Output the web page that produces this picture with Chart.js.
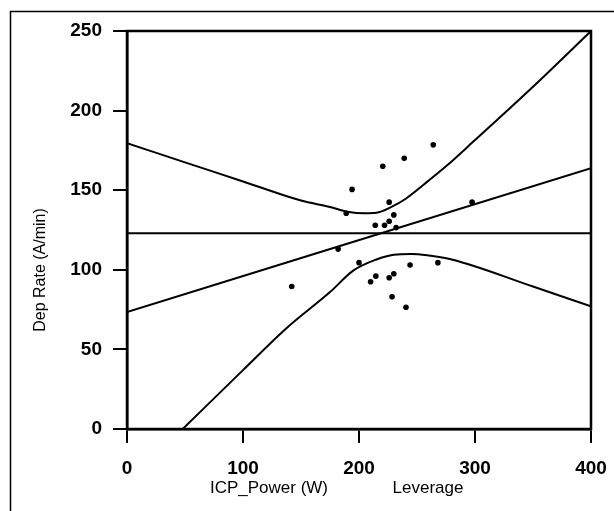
<!DOCTYPE html>
<html>
<head>
<meta charset="utf-8">
<script src="https://cdn.jsdelivr.net/npm/chart.js@4/dist/chart.umd.min.js"></script>
<style>
  html, body { margin: 0; padding: 0; background: #fff; }
  #wrap { width: 614px; height: 511px; position: relative; }
</style>
</head>
<body>
<div id="wrap"><canvas id="c" width="614" height="511"></canvas></div>
<script>
const powerX  = [264, 239, 220.5, 194, 226, 297.5, 189, 230, 214, 222, 226, 232, 182, 200, 244, 268, 214.5, 230, 226, 210, 228.5, 240.5, 142];
const depRate = [178.5, 170, 165, 150.5, 142.5, 142.5, 135.5, 134.5, 128, 128, 130.5, 126.5, 113, 104.5, 103, 104.5, 96, 97.5, 95, 92.5, 83, 76.5, 89.5];

// Fitted line
const fitX = [0, 400];
const fitY = [73.5, 163.8];

// Horizontal mean line
const meanX = [0, 400];
const meanY = [123, 123];

// Upper confidence curve
const upperX = [0, 50, 100, 150, 175, 190, 205, 215, 228, 240, 260, 275, 300, 350, 400];
const upperY = [179.5, 167.5, 155.5, 143.5, 139.5, 136.5, 135.5, 135.8, 139.5, 144.5, 156, 165, 181.5, 215, 250];

// Lower confidence curve
const lowerX = [48, 100, 137, 175, 195, 215, 230, 245, 260, 280, 350, 400];
const lowerY = [0, 37, 63, 86, 99.5, 106.5, 109.5, 110, 109, 106.5, 89.5, 77];

// Axis ticks
const xTicks = [0, 100, 200, 300, 400];
const yTicks = [0, 50, 100, 150, 200, 250];

const xTitle = "ICP_Power (W)";
const xTitle2 = "Leverage";
const yTitle = "Dep Rate (A/min)";

function pts(xs, ys) { return xs.map((x, i) => ({ x: x, y: ys[i] })); }

const lineDs = (xs, ys) => ({
  data: pts(xs, ys), showLine: true, borderColor: '#000', borderWidth: 2,
  pointRadius: 0, fill: false, tension: 0.25, cubicInterpolationMode: 'monotone'
});

const framePlugin = {
  id: 'frame',
  beforeDraw(chart) {
    const ctx = chart.ctx;
    ctx.save();
    ctx.fillStyle = '#fff';
    ctx.fillRect(0, 0, chart.width, chart.height);
    ctx.strokeStyle = '#000';
    ctx.lineWidth = 1.5;
    ctx.beginPath();
    ctx.moveTo(10.5, 511);
    ctx.lineTo(10.5, 11.5);
    ctx.lineTo(614, 11.5);
    ctx.stroke();
    ctx.restore();
  },
  afterDraw(chart) {
    const ctx = chart.ctx;
    const a = chart.chartArea;
    ctx.save();
    ctx.strokeStyle = '#000';
    ctx.lineWidth = 2.5;
    ctx.strokeRect(a.left, a.top, a.right - a.left, a.bottom - a.top);
    ctx.fillStyle = '#000';
    // axis titles
    ctx.font = '17px "Liberation Sans", Arial, sans-serif';
    ctx.textBaseline = 'middle';
    ctx.textAlign = 'center';
    ctx.fillText(xTitle, 269, 488);
    ctx.fillText(xTitle2, 428, 488);
    ctx.font = '16px "Liberation Sans", Arial, sans-serif';
    ctx.translate(41, 270);
    ctx.rotate(-Math.PI / 2);
    ctx.fillText(yTitle, 0, 0);
    ctx.restore();
  }
};

new Chart(document.getElementById('c'), {
  type: 'scatter',
  data: {
    datasets: [
      lineDs(upperX, upperY),
      lineDs(lowerX, lowerY),
      lineDs(fitX, fitY),
      lineDs(meanX, meanY),
      {
        data: pts(powerX, depRate), showLine: false,
        pointRadius: 2.8, pointBackgroundColor: '#000', pointBorderColor: '#000', pointBorderWidth: 0
      }
    ]
  },
  options: {
    responsive: false,
    animation: false,
    devicePixelRatio: 1,
    layout: { padding: { left: 0, right: 23, top: 31, bottom: 0 } },
    plugins: { legend: { display: false }, tooltip: { enabled: false } },
    scales: {
      x: {
        type: 'linear', min: 0, max: 400,
        afterFit(s) { s.height = 82; s.paddingLeft = 0; s.paddingRight = 0; },
        afterBuildTicks(s) { s.ticks = xTicks.map(v => ({ value: v })); },
        grid: { display: true, drawOnChartArea: false, drawTicks: true, tickLength: 14, color: '#000', lineWidth: 2 },
        border: { display: true, color: '#000', width: 2.5 },
        ticks: { color: '#000', padding: 14, maxRotation: 0, font: { family: '"Liberation Sans", Arial, sans-serif', size: 19, weight: 'bold' } }
      },
      y: {
        type: 'linear', min: 0, max: 250,
        afterFit(s) { s.width = 127; s.paddingTop = 0; s.paddingBottom = 0; },
        afterBuildTicks(s) { s.ticks = yTicks.map(v => ({ value: v })); },
        grid: { display: true, drawOnChartArea: false, drawTicks: true, tickLength: 14, color: '#000', lineWidth: 2 },
        border: { display: true, color: '#000', width: 2.5 },
        ticks: { color: '#000', padding: 11, font: { family: '"Liberation Sans", Arial, sans-serif', size: 19, weight: 'bold' } }
      }
    }
  },
  plugins: [framePlugin]
});
</script>
</body>
</html>
